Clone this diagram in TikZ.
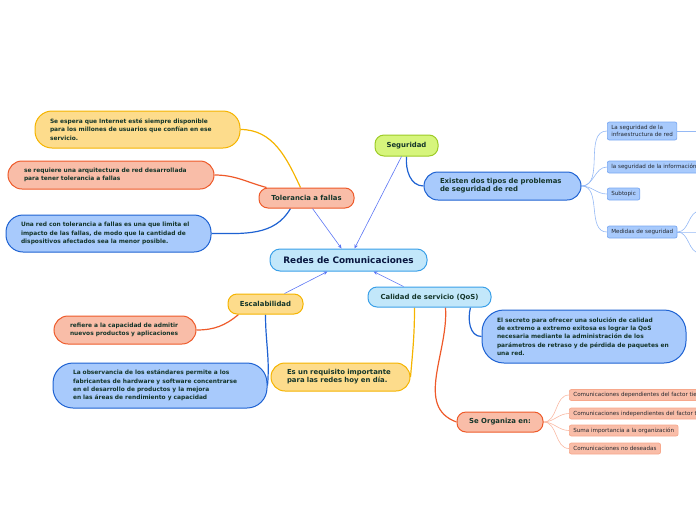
\documentclass[tikz,border=0pt]{standalone}
\usepackage{fontspec}
\setmainfont{DejaVu Sans}
\usetikzlibrary{arrows.meta,backgrounds}

\definecolor{txt}{HTML}{14352A}
\definecolor{leaftxt}{HTML}{23282F}
\definecolor{yelfill}{HTML}{FDDC8C}
\definecolor{yelline}{HTML}{F5B400}
\definecolor{salfill}{HTML}{F9BDA8}
\definecolor{salline}{HTML}{EE5A2A}
\definecolor{blufill}{HTML}{A8CAFC}
\definecolor{bluline}{HTML}{1E62D2}
\definecolor{cyafill}{HTML}{C2E7FA}
\definecolor{cyaline}{HTML}{3AA0E8}
\definecolor{grefill}{HTML}{D6F57C}
\definecolor{greline}{HTML}{9DCB26}
\definecolor{arrowblue}{HTML}{5B75F4}
\definecolor{leafbluline}{HTML}{7AA8F2}
\definecolor{leafsalline}{HTML}{F7A88C}

\begin{document}
\begin{tikzpicture}
  [x=1pt,y=1pt,
     topic/.style={shape=rectangle,
                  draw,
                  line width=1pt,
                  rounded corners=9pt,
                  inner sep=0pt,
                  text=txt,
                  align=center,
                  font=\fontsize{6.9}{8.2}\selectfont\bfseries},
     note/.style={shape=rectangle,
                  draw,
                  line width=1pt,
                  inner ysep=0pt,
                  text=txt,
                  align=left,
                  font=\fontsize{5.9}{8.3}\selectfont\bfseries},
     leaf/.style={shape=rectangle,
                  draw,
                  line width=0.7pt,
                  rounded corners=2pt,
                  inner xsep=4pt,
                  inner ysep=0pt,
                  minimum height=12pt,
                  anchor=west,
                  text=leaftxt,
                  align=left,
                  font=\fontsize{5.6}{6.6}\selectfont},
     yel/.style={fill=yelfill,draw=yelline},
     sal/.style={fill=salfill,draw=salline},
     blu/.style={fill=blufill,draw=bluline},
     cya/.style={fill=cyafill,draw=cyaline},
     gre/.style={fill=grefill,draw=greline},
     yelwire/.style={draw=yelline,line width=1.2pt},
     salwire/.style={draw=salline,line width=1.2pt},
     bluwire/.style={draw=bluline,line width=1.2pt},
     leafblu/.style={draw=leafbluline!80,line width=0.6pt},
     leafsal/.style={draw=leafsalline!80,line width=0.6pt},
     link/.style={-{Stealth[length=4pt,width=3.5pt]},draw=arrowblue,line width=0.6pt}
  ]
    \useasboundingbox (0,0) rectangle (696,-520);
    \clip (0,0) rectangle (696,-520);

    % main topics
    \node[topic,cya,minimum width=157pt,minimum height=22pt,rounded corners=10pt,
          text=txt!70!blue!60!black,font=\fontsize{8.9}{10}\selectfont\bfseries] (redes) at (348.5,-260) {Redes de Comunicaciones};
    \node[topic,gre,minimum width=63pt,minimum height=21pt] (seg) at (406.5,-145.5) {Seguridad};
    \node[topic,sal,minimum width=95pt,minimum height=20pt] (tol) at (306.5,-198) {Tolerancia a fallas};
    \node[topic,yel,minimum width=75pt,minimum height=20pt] (esc) at (265.5,-304) {Escalabilidad};
    \node[topic,cya,minimum width=123pt,minimum height=20pt] (qos) at (429.5,-297) {Calidad de servicio (QoS)};

    % seguridad
    \node[topic,blu,align=left,text width=125pt,inner xsep=16pt,minimum height=28pt,rounded corners=14pt] (tipos) at (502.5,-186) {Existen dos tipos de problemas\\de seguridad de red};
    \node[leaf,blu,draw=leafbluline,minimum height=18pt] (infra) at (607,-131) {La seguridad de la\\infraestructura de red};
    \node[leaf,blu,draw=leafbluline] (info) at (607,-167) {la seguridad de la información};
    \node[leaf,blu,draw=leafbluline] (subt) at (607,-194) {Subtopic};
    \node[leaf,blu,draw=leafbluline] (medi) at (607,-232) {Medidas de seguridad};
    \coordinate (infraout) at (700,-131);
    \coordinate (up) at (700,-211);
    \coordinate (mid) at (700,-232);
    \coordinate (down) at (700,-253);

    % tolerancia a fallas
    \node[note,yel,text width=175pt,inner xsep=15pt,minimum height=37pt,rounded corners=17pt] (espera) at (137.5,-129.5) {Se espera que Internet esté siempre disponible\\para los millones de usuarios que confían en ese\\servicio.};
    \node[note,sal,text width=174pt,inner xsep=16pt,minimum height=28pt,rounded corners=14pt] (arqui) at (111,-175) {se requiere una arquitectura de red desarrollada\\para tener tolerancia a fallas};
    \node[note,blu,text width=175pt,inner xsep=15pt,minimum height=37pt,rounded corners=17pt] (limita) at (108.5,-233.5) {Una red con tolerancia a fallas es una que limita el\\impacto de las fallas, de modo que la cantidad de\\dispositivos afectados sea la menor posible.};

    % escalabilidad
    \node[note,sal,text width=110pt,inner xsep=16pt,minimum height=28pt,rounded corners=14pt] (admite) at (125,-330) {refiere a la capacidad de admitir\\nuevos productos y aplicaciones};
    \node[note,blu,text width=174pt,inner xsep=20pt,minimum height=45pt,rounded corners=20pt] (normas) at (160,-385.5) {La observancia de los estándares permite a los\\fabricantes de hardware y software concentrarse\\en el desarrollo de productos y la mejora\\en las áreas de rendimiento y capacidad};

    % calidad de servicio
    \node[topic,yel,align=left,text width=107pt,inner xsep=16pt,minimum height=28pt,rounded corners=14pt] (requi) at (340.5,-377) {Es un requisito importante\\para las redes hoy en día.};
    \node[note,blu,text width=174pt,inner xsep=15pt,minimum height=53pt,rounded corners=22pt] (secreto) at (584,-336.5) {El secreto para ofrecer una solución de calidad\\de extremo a extremo exitosa es lograr la QoS\\necesaria mediante la administración de los\\parámetros de retraso y de pérdida de paquetes en\\una red.};
    \node[topic,sal,minimum width=86pt,minimum height=20pt] (org) at (500,-422) {Se Organiza en:};
    \node[leaf,sal,draw=leafsalline,minimum height=11pt] (c1) at (569,-395) {Comunicaciones dependientes del factor tiempo};
    \node[leaf,sal,draw=leafsalline,minimum height=11pt] (c2) at (569,-413.5) {Comunicaciones independientes del factor tiempo};
    \node[leaf,sal,draw=leafsalline,minimum height=11pt] (c3) at (569,-430.5) {Suma importancia a la organización};
    \node[leaf,sal,draw=leafsalline,minimum height=11pt] (c4) at (569,-448.5) {Comunicaciones no deseadas};

    \begin{pgfonlayer}{background}
        \draw[yelwire] (espera.east) to[out=0,in=115] ([xshift=-6pt]tol.north);
        \draw[salwire] (arqui.east) to[out=0,in=165] ([xshift=-40pt]tol.north);
        \draw[bluwire] (limita.east) to[out=0,in=-120] ([xshift=-16pt]tol.south);

        \draw[bluwire] (seg.south) to[out=-95,in=180] (tipos.west);
        \foreach \n in {infra,info,subt,medi}
            \draw[leafblu] (tipos.east) to[out=0,in=180] (\n.west);
        \foreach \c in {up,mid,down}
            \draw[leafblu] (medi.east) to[out=0,in=180] (\c);
        \draw[leafblu] (infra.east) -- (infraout);

        \draw[salwire] (admite.east) to[out=0,in=-140] ([xshift=-27pt]esc.south);
        \draw[bluwire] (esc.south) to[out=-90,in=85] (normas.east);

        \draw[yelwire] ([xshift=-15pt]qos.south) to[out=-90,in=85] (requi.east);
        \draw[salwire] ([xshift=16pt]qos.south) to[out=-86,in=160] (org.west);
        \draw[bluwire] ([xshift=41pt]qos.south) to[out=-105,in=180] (secreto.west);
        \foreach \n in {c1,c2,c3,c4}
            \draw[leafsal] (org.east) to[out=0,in=180] (\n.west);
    \end{pgfonlayer}

    % links into the centre
    \draw[link] ([xshift=6pt]tol.south) -- ([xshift=-7pt]redes.north);
    \draw[link] ([xshift=-5pt]seg.south) -- ([xshift=6pt]redes.north);
    \draw[link] ([xshift=19pt]esc.north) -- ([xshift=-21pt]redes.south);
    \draw[link] ([xshift=-26pt]qos.north) -- ([xshift=25pt]redes.south);

\end{tikzpicture}
\end{document}
